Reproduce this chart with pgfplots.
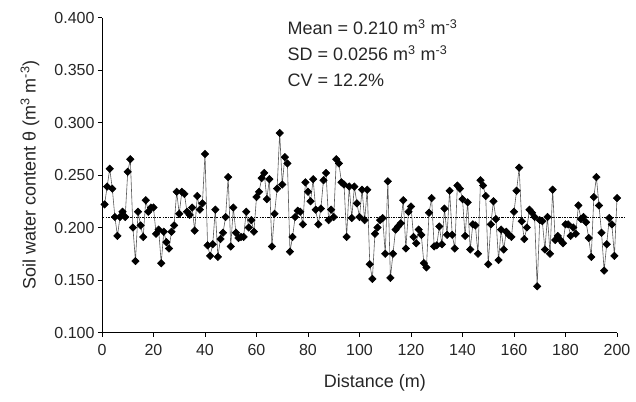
\documentclass[border=0pt]{standalone}
\usepackage{fontspec}
\setmainfont{Liberation Sans}
\usepackage{pgfplots}
\pgfplotsset{compat=1.18}

% soil water content along the transect, one reading per metre
\pgfplotstableread{
x y
1 0.222
2 0.239
3 0.256
4 0.237
5 0.210
6 0.192
7 0.210
8 0.215
9 0.210
10 0.253
11 0.265
12 0.200
13 0.168
14 0.215
15 0.202
16 0.191
17 0.226
18 0.215
19 0.219
20 0.219
21 0.194
22 0.198
23 0.166
24 0.196
25 0.186
26 0.180
27 0.196
28 0.202
29 0.234
30 0.213
31 0.234
32 0.232
33 0.215
34 0.212
35 0.219
36 0.197
37 0.230
38 0.217
39 0.223
40 0.270
41 0.183
42 0.173
43 0.184
44 0.217
45 0.172
46 0.189
47 0.195
48 0.210
49 0.248
50 0.182
51 0.219
52 0.195
53 0.190
54 0.191
55 0.191
56 0.215
57 0.200
58 0.207
59 0.196
60 0.229
61 0.234
62 0.247
63 0.252
64 0.227
65 0.246
66 0.182
67 0.213
68 0.237
69 0.290
70 0.241
71 0.267
72 0.261
73 0.177
74 0.191
75 0.210
76 0.216
77 0.215
78 0.203
79 0.243
80 0.234
81 0.225
82 0.246
83 0.217
84 0.203
85 0.218
86 0.245
87 0.252
88 0.207
89 0.217
90 0.210
91 0.265
92 0.261
93 0.243
94 0.241
95 0.191
96 0.239
97 0.209
98 0.239
99 0.223
100 0.210
101 0.236
102 0.207
103 0.236
104 0.165
105 0.151
106 0.194
107 0.200
108 0.207
109 0.209
110 0.175
111 0.244
112 0.152
113 0.175
114 0.198
115 0.201
116 0.204
117 0.226
118 0.180
119 0.215
120 0.220
121 0.191
122 0.185
123 0.198
124 0.193
125 0.166
126 0.162
127 0.214
128 0.228
129 0.182
130 0.183
131 0.201
132 0.184
133 0.218
134 0.193
135 0.235
136 0.193
137 0.180
138 0.240
139 0.237
140 0.227
141 0.192
142 0.224
143 0.179
144 0.203
145 0.202
146 0.175
147 0.245
148 0.240
149 0.230
150 0.165
151 0.203
152 0.225
153 0.208
154 0.169
155 0.198
156 0.179
157 0.196
158 0.193
159 0.191
160 0.215
161 0.235
162 0.257
163 0.206
164 0.189
165 0.200
166 0.217
167 0.214
168 0.210
169 0.144
170 0.207
171 0.206
172 0.179
173 0.210
174 0.175
175 0.236
176 0.188
177 0.192
178 0.188
179 0.185
180 0.203
181 0.203
182 0.192
183 0.200
184 0.194
185 0.221
186 0.208
187 0.210
188 0.205
189 0.190
190 0.172
191 0.229
192 0.248
193 0.221
194 0.195
195 0.159
196 0.184
197 0.209
198 0.203
199 0.173
200 0.228
}\swc

\begin{document}
\begin{tikzpicture}
\begin{axis}[
    at={(0,0)}, anchor=south west,
    width=515bp, height=315bp, scale only axis,
    xmin=0, xmax=200,
    ymin=0.1, ymax=0.4,
    axis x line*=bottom, axis y line*=left,
    axis line style={black, line width=0.8bp},
    xtick={0,20,40,60,80,100,120,140,160,180,200},
    ytick={0.1,0.15,0.2,0.25,0.3,0.35,0.4},
    tick align=outside, major tick length=4bp,
    tick style={black, line width=0.8bp},
    /pgf/number format/assume math mode=true,
    yticklabel style={/pgf/number format/.cd, fixed, fixed zerofill, precision=3},
    xticklabel style={yshift=-4bp},
    ticklabel style={font=\fontsize{16bp}{19bp}\selectfont, color=black!85},
    xlabel={Distance (m)},
    ylabel={Soil water content θ (m\textsuperscript{3} m\textsuperscript{-3})},
    xlabel style={at={(axis description cs:0.53,-0.16)}, anchor=center,
        font=\fontsize{18bp}{21bp}\selectfont, color=black!85},
    ylabel style={at={(axis description cs:-0.14,0.5)}, rotate=0, anchor=center,
        font=\fontsize{18bp}{21bp}\selectfont, color=black!85},
    clip=false,
]
\addplot[black, line width=0.6bp, dash pattern=on 2.5bp off 1.2bp on 0.8bp off 1.2bp]
    coordinates {(0,0.210) (203,0.210)};
\addplot[black!65, line width=0.6bp, mark=square*,
    mark options={black, rotate=45, solid}, mark size=2.6bp]
    table[x=x, y=y] {\swc};
\node[anchor=north west, align=left, inner sep=0pt, text=black!85,
    font=\fontsize{18bp}{26bp}\selectfont] at (axis cs:72,0.3985)
    {Mean = 0.210 m\textsuperscript{3} m\textsuperscript{-3}\\
     SD = 0.0256 m\textsuperscript{3} m\textsuperscript{-3}\\
     CV = 12.2\%};
\end{axis}
\pgfresetboundingbox
\path[use as bounding box] (-102bp,-69.5bp) rectangle (534bp,332.5bp);
\end{tikzpicture}
\end{document}
